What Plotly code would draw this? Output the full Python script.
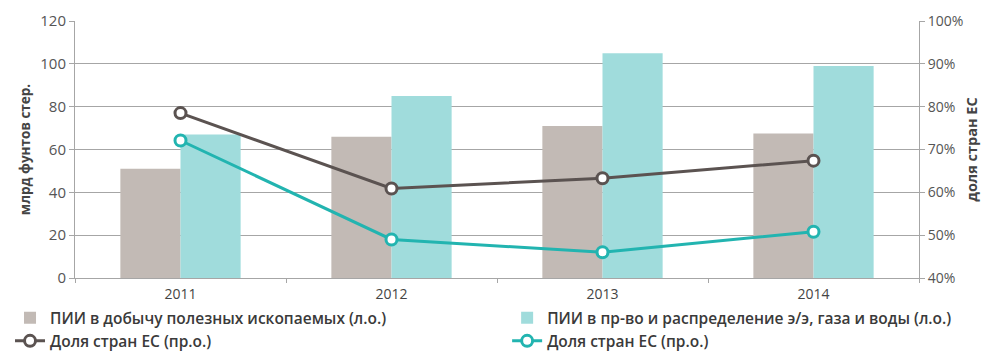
import plotly.graph_objects as go

years = ["2011", "2012", "2013", "2014"]
mining = [51, 66, 71, 67.5]
utilities = [67, 85, 105, 99]
eu_share_mining = [78.5, 60.9, 63.3, 67.4]
eu_share_util = [72.1, 49.0, 46.0, 50.8]

name_mining = "ПИИ в добычу полезных ископаемых (л.о.)"
name_util = "ПИИ в пр-во и распределение э/э, газа и воды (л.о.)"
name_eu = "Доля стран ЕС (пр.о.)"

GREY_BAR = "#c2bab5"
TEAL_BAR = "#a0dcdc"
GREY_LINE = "#5b5351"
TEAL_LINE = "#22b4b0"
AXIS = "#a6a6a6"
FONT = "Open Sans"

fig = go.Figure()
fig.add_trace(go.Bar(x=years, y=mining, name=name_mining, legend="legend",
                     marker=dict(color=GREY_BAR, line=dict(width=0))))
fig.add_trace(go.Bar(x=years, y=utilities, name=name_util, legend="legend2",
                     marker=dict(color=TEAL_BAR, line=dict(width=0))))
fig.add_trace(go.Scatter(x=years, y=eu_share_mining, name=name_eu, yaxis="y2", mode="lines+markers",
                         legend="legend",
                         line=dict(color=GREY_LINE, width=3),
                         marker=dict(symbol="circle", size=11, color="white", line=dict(color=GREY_LINE, width=3))))
fig.add_trace(go.Scatter(x=years, y=eu_share_util, name=name_eu, yaxis="y2", mode="lines+markers",
                         legend="legend2",
                         line=dict(color=TEAL_LINE, width=3),
                         marker=dict(symbol="circle", size=11, color="white", line=dict(color=TEAL_LINE, width=3))))

leg_common = dict(orientation="v", yanchor="top", xanchor="left", tracegroupgap=0,
                  traceorder="normal", bgcolor="rgba(0,0,0,0)",
                  font=dict(family=FONT, size=15.5, color="#3a3a3a", weight=600), itemwidth=30)

fig.update_layout(
    width=994, height=353,
    margin=dict(l=75, r=75, t=21, b=75, autoexpand=False),
    paper_bgcolor="white", plot_bgcolor="white",
    font=dict(family=FONT, size=14, color="#555555"),
    barmode="group", bargap=0.43, bargroupgap=0,
    showlegend=True,
    legend=dict(x=-0.077, y=-0.09, **leg_common),
    legend2=dict(x=0.512, y=-0.09, **leg_common),
    xaxis=dict(showline=True, linecolor=AXIS, linewidth=1, showgrid=False,
               ticks="outside", tickson="boundaries", ticklen=4, tickcolor=AXIS,
               ticklabelstandoff=3,
               tickfont=dict(size=14, color="#444444")),
    yaxis=dict(range=[0, 120], dtick=20, showgrid=True, gridcolor=AXIS, gridwidth=1,
               showline=True, linecolor=AXIS, ticks="outside", ticklen=5, tickcolor=AXIS,
               zeroline=False, tickfont=dict(size=15, color="#555555"),
               title=dict(text="<b>млрд фунтов стер.</b>", font=dict(size=13.5, color="#444444"), standoff=6)),
    yaxis2=dict(range=[40, 100], dtick=10, overlaying="y", side="right", showgrid=False,
                showline=True, linecolor=AXIS, ticks="outside", ticklen=5, tickcolor=AXIS,
                ticksuffix="%", zeroline=False, tickfont=dict(size=14, color="#555555"),
                title=dict(text="<b>доля стран ЕС</b>", font=dict(size=14.5, color="#444444"), standoff=4)),
)

fig.write_html("out.html")
